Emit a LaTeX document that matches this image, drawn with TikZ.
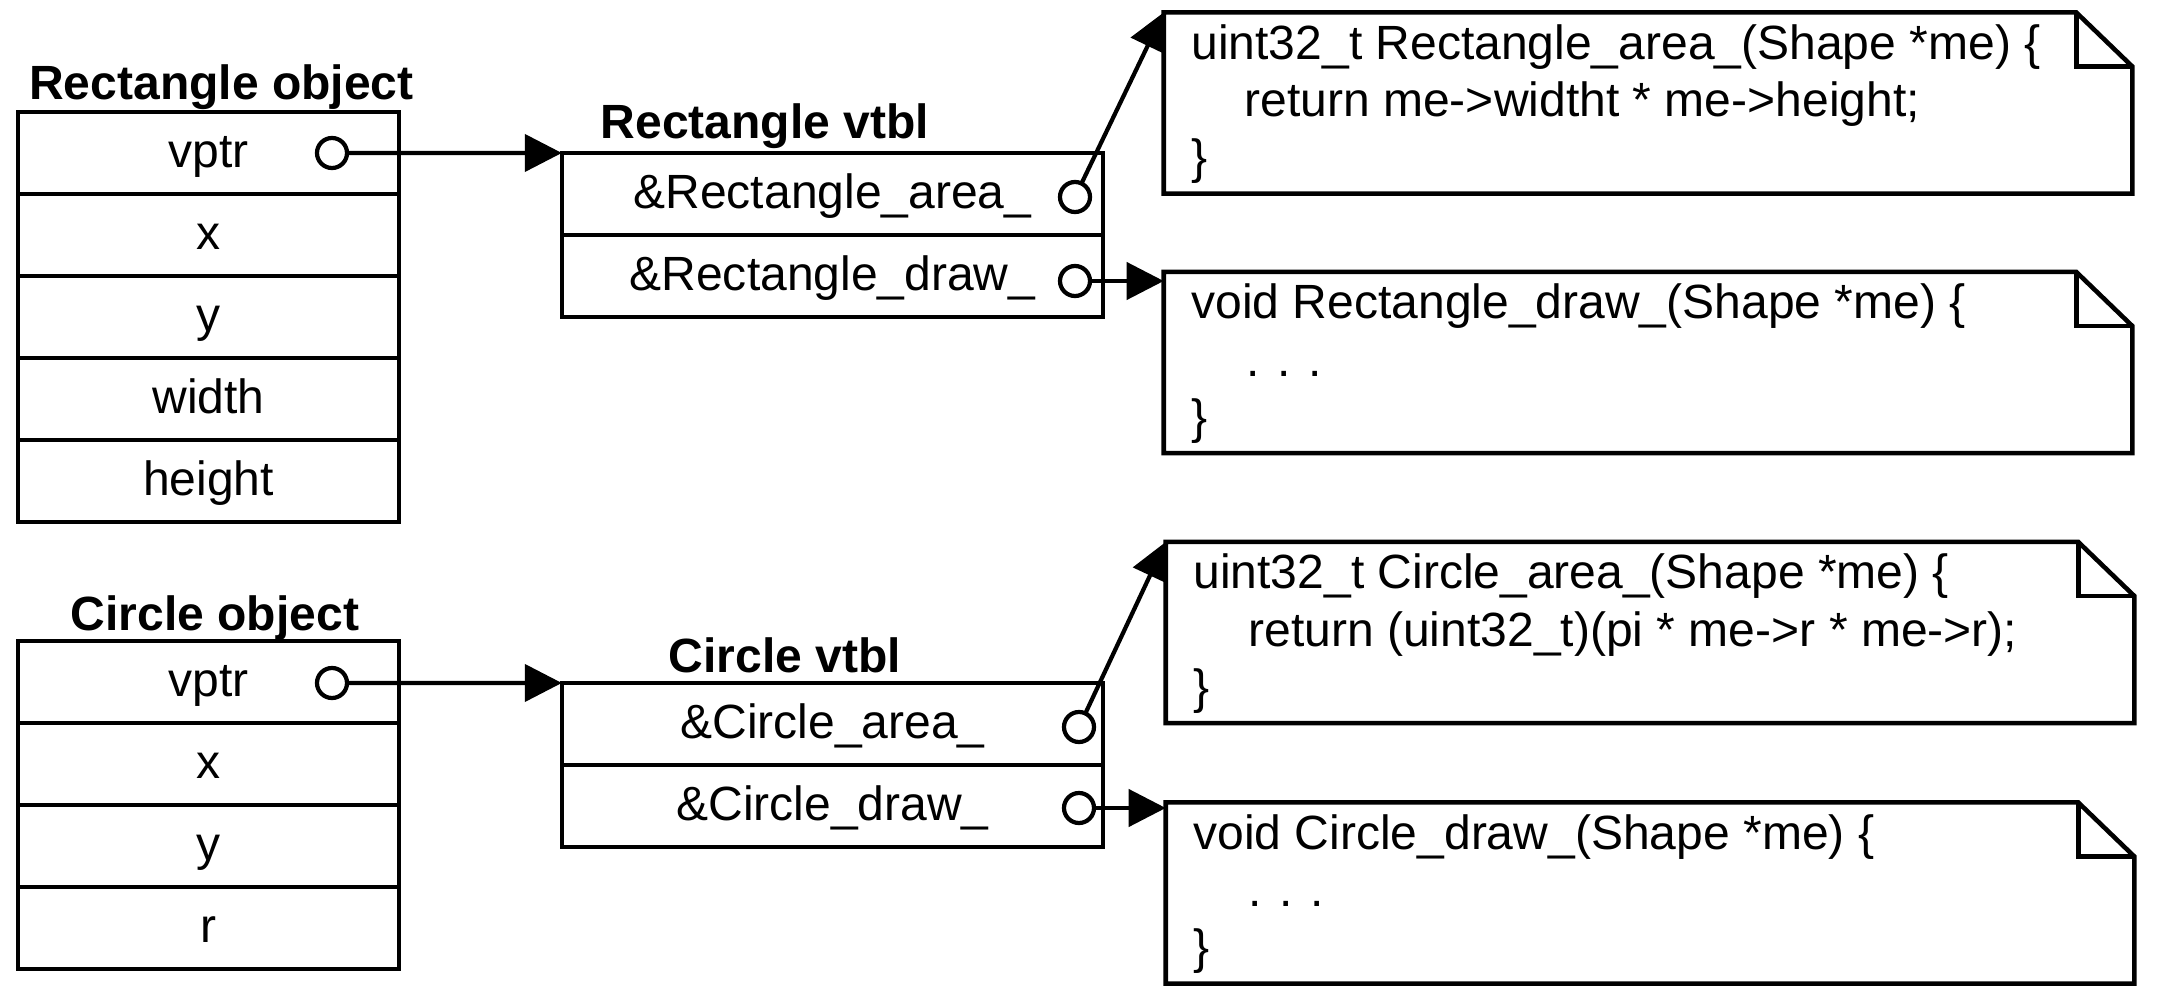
\documentclass[tikz,border=0pt]{standalone}
\usepackage{fontspec}
\setmainfont{Liberation Sans}
\usetikzlibrary{arrows.meta}
\newcommand\rfont{\fontsize{13.66pt}{16.4pt}\selectfont}
\newcommand\dognote[1]{%
  \draw[line width=1.3pt, line join=miter] (#1.north west) -- ([xshift=-0.56cm]#1.north east)
    -- ([yshift=-0.54cm]#1.north east) -- (#1.south east) -- (#1.south west) -- cycle;
  \draw[line width=1.3pt, line join=miter] ([xshift=-0.56cm]#1.north east) |- ([yshift=-0.54cm]#1.north east);}
\begin{document}
\begin{tikzpicture}[x=0.01cm, y=0.01cm,
  row/.style={draw, line width=1.3pt, minimum height=0.82cm, inner sep=0pt, outer sep=0pt,
    text height=0.38cm, text depth=0.10cm, font=\rfont},
  objrow/.style={row, minimum width=3.81cm},
  vtrow/.style={row, minimum width=5.41cm},
  title/.style={anchor=base, inner sep=0pt, font=\rfont\bfseries},
  dot/.style={circle, draw, line width=1.2pt, fill=white, minimum size=0.30cm, inner sep=0pt, outer sep=0pt},
  note/.style={minimum width=9.68cm, minimum height=1.81cm, inner sep=0pt, outer sep=0pt},
  code/.style={anchor=base west, inner sep=0pt, font=\rfont},
  arr/.style={line width=1.2pt, -{Triangle[length=0.37cm, width=0.37cm]}}]
\useasboundingbox (0,0) rectangle (2162,-1000);

% ---------- Rectangle object ----------
\node[title] (tro) at (221.5,-99) {Rectangle object};
\node[objrow] (ro1) at (208.5,-153) {vptr};
\node[objrow] (ro2) at (208.5,-235) {x};
\node[objrow] (ro3) at (208.5,-317) {y};
\node[objrow] (ro4) at (208.5,-399) {width};
\node[objrow] (ro5) at (208.5,-481) {height};
\node[dot] (rvp) at (332,-153) {};

% ---------- Rectangle vtbl ----------
\node[title] (trv) at (765,-138) {Rectangle vtbl};
\node[vtrow] (rv1) at (832.5,-194) {\&Rectangle\_area\_\hspace{0.55cm}};
\node[vtrow] (rv2) at (832.5,-276) {\&Rectangle\_draw\_\hspace{0.55cm}};
\node[dot] (rac) at (1075,-197) {};
\node[dot] (rdc) at (1075,-281) {};

% ---------- Rectangle notes ----------
\node[note] (n1) at (1648,-103) {};
\dognote{n1}
\node[code] (n1a) at ([shift={(0.27cm,-0.47cm)}]n1.north west) {uint32\_t Rectangle\_area\_(Shape *me) \{};
\node[code] (n1b) at ([shift={(0.80cm,-1.04cm)}]n1.north west) {return me->widtht * me->height;};
\node[code] (n1c) at ([shift={(0.27cm,-1.61cm)}]n1.north west) {\}};

\node[note] (n2) at (1648,-362.5) {};
\dognote{n2}
\node[code] (n2a) at ([shift={(0.27cm,-0.47cm)}]n2.north west) {void Rectangle\_draw\_(Shape *me) \{};
\node[code] (n2b) at ([shift={(0.82cm,-1.04cm)}]n2.north west) {. . .};
\node[code] (n2c) at ([shift={(0.27cm,-1.61cm)}]n2.north west) {\}};

% ---------- Circle object ----------
\node[title] (tco) at (215,-630) {Circle object};
\node[objrow] (co1) at (208.5,-682) {vptr};
\node[objrow] (co2) at (208.5,-764) {x};
\node[objrow] (co3) at (208.5,-846) {y};
\node[objrow] (co4) at (208.5,-928) {r};
\node[dot] (cvp) at (332,-683) {};

% ---------- Circle vtbl ----------
\node[title] (tcv) at (785,-672) {Circle vtbl};
\node[vtrow] (cv1) at (832.5,-724) {\&Circle\_area\_\hspace{0.55cm}};
\node[vtrow] (cv2) at (832.5,-806) {\&Circle\_draw\_\hspace{0.55cm}};
\node[dot] (cac) at (1079,-727) {};
\node[dot] (cdc) at (1079,-808) {};

% ---------- Circle notes ----------
\node[note] (n3) at (1650,-632.5) {};
\dognote{n3}
\node[code] (n3a) at ([shift={(0.27cm,-0.47cm)}]n3.north west) {uint32\_t Circle\_area\_(Shape *me) \{};
\node[code] (n3b) at ([shift={(0.82cm,-1.04cm)}]n3.north west) {return (uint32\_t)(pi * me->r * me->r);};
\node[code] (n3c) at ([shift={(0.27cm,-1.61cm)}]n3.north west) {\}};

\node[note] (n4) at (1650,-893) {};
\dognote{n4}
\node[code] (n4a) at ([shift={(0.27cm,-0.47cm)}]n4.north west) {void Circle\_draw\_(Shape *me) \{};
\node[code] (n4b) at ([shift={(0.82cm,-1.04cm)}]n4.north west) {. . .};
\node[code] (n4c) at ([shift={(0.27cm,-1.61cm)}]n4.north west) {\}};

% ---------- connectors ----------
\draw[arr] (rvp) -- (rv1.north west);
\draw[arr] (rac) -- (n1.north west);
\draw[arr] (rdc) -- (rdc -| n2.west);
\draw[arr] (cvp) -- (cv1.north west);
\draw[arr] (cac) -- (n3.north west);
\draw[arr] (cdc) -- (cdc -| n4.west);
\end{tikzpicture}
\end{document}
